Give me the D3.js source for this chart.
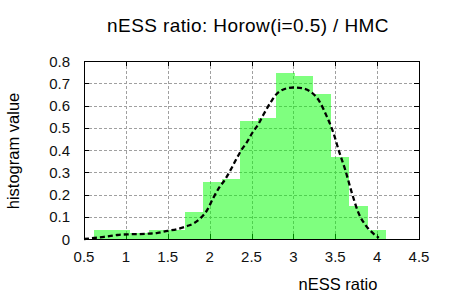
<!DOCTYPE html>
<html>
<head>
<meta charset="utf-8">
<script src="https://cdn.jsdelivr.net/npm/d3@7.9.0/dist/d3.min.js"></script>
<style>
  body { margin: 0; background: #fff; }
  svg { display: block; font-family: "Liberation Sans", Arial, sans-serif; }
</style>
</head>
<body>
<svg id="chart" width="450" height="300"></svg>
<script>
// histogram bins (left edge) and their values
const binLeft = [0.619, 0.837, 1.055, 1.272, 1.490, 1.708, 1.926, 2.144,
                 2.361, 2.579, 2.797, 3.015, 3.233, 3.450, 3.668, 3.886];
const binWidth = 0.2178;
const histValues = [0.040, 0.040, 0.026, 0.040, 0.040, 0.121, 0.258, 0.270,
                    0.530, 0.544, 0.746, 0.733, 0.652, 0.369, 0.148, 0.040];

// smoothed density curve (dashed line)
const curveX = [0.50, 0.56, 0.66, 0.78, 0.90, 1.02, 1.14, 1.26, 1.38, 1.50,
                1.61, 1.73, 1.81, 1.89, 1.97, 2.04, 2.12, 2.18, 2.26, 2.32,
                2.38, 2.44, 2.52, 2.58, 2.64, 2.73, 2.80, 2.88, 3.00, 3.10,
                3.20, 3.30, 3.40, 3.48, 3.54, 3.62, 3.70, 3.78, 3.86, 3.95, 4.02];
const curveY = [0.000, 0.002, 0.006, 0.012, 0.018, 0.021, 0.022, 0.024, 0.028, 0.037,
                0.044, 0.058, 0.070, 0.093, 0.130, 0.182, 0.234, 0.265, 0.317, 0.360,
                0.400, 0.432, 0.483, 0.515, 0.557, 0.615, 0.652, 0.672, 0.681, 0.678,
                0.663, 0.625, 0.550, 0.475, 0.400, 0.310, 0.205, 0.115, 0.063, 0.026, 0.005];

const xTicks = [0.5, 1, 1.5, 2, 2.5, 3, 3.5, 4, 4.5];
const yTicks = [0, 0.1, 0.2, 0.3, 0.4, 0.5, 0.6, 0.7, 0.8];

const title = 'nESS ratio: Horow(i=0.5) / HMC';
const xLabel = 'nESS ratio';
const yLabel = 'histogram value';

const svg = d3.select('#chart');

// plot box
const pLeft = 84, pRight = 419, pTop = 61, pBottom = 239;

const x = d3.scaleLinear().domain([0.5, 4.5]).range([pLeft, pRight]);
const y = d3.scaleLinear().domain([0, 0.8]).range([pBottom, pTop]);

// grid lines
const grid = svg.append('g')
  .attr('stroke', '#a0a0a0')
  .attr('stroke-width', 1)
  .attr('stroke-dasharray', '3,2')
  .attr('shape-rendering', 'crispEdges');

grid.selectAll('.vg')
  .data(xTicks.slice(1, -1))
  .join('line')
  .attr('x1', d => Math.round(x(d)) + 0.5)
  .attr('x2', d => Math.round(x(d)) + 0.5)
  .attr('y1', pTop)
  .attr('y2', pBottom);

grid.selectAll('.hg')
  .data(yTicks.slice(1, -1))
  .join('line')
  .attr('x1', pLeft)
  .attr('x2', pRight)
  .attr('y1', d => Math.round(y(d)) + 0.5)
  .attr('y2', d => Math.round(y(d)) + 0.5);

// tick marks (inward, mirrored)
const ticks = svg.append('g')
  .attr('stroke', '#000')
  .attr('stroke-width', 1)
  .attr('shape-rendering', 'crispEdges');

xTicks.forEach(t => {
  const px = Math.round(x(t)) + 0.5;
  ticks.append('line').attr('x1', px).attr('x2', px).attr('y1', pBottom).attr('y2', pBottom - 5);
  ticks.append('line').attr('x1', px).attr('x2', px).attr('y1', pTop).attr('y2', pTop + 5);
});
yTicks.forEach(t => {
  const py = Math.round(y(t)) + 0.5;
  ticks.append('line').attr('x1', pLeft).attr('x2', pLeft + 5).attr('y1', py).attr('y2', py);
  ticks.append('line').attr('x1', pRight).attr('x2', pRight - 5).attr('y1', py).attr('y2', py);
});

// histogram bars (half-transparent green)
svg.append('g')
  .selectAll('rect')
  .data(histValues)
  .join('rect')
  .attr('x', (d, i) => x(binLeft[i]))
  .attr('width', (d, i) => x(binLeft[i] + binWidth) - x(binLeft[i]))
  .attr('y', d => y(d))
  .attr('height', d => y(0) - y(d))
  .attr('fill', '#00ff00')
  .attr('fill-opacity', 0.5)
  .attr('shape-rendering', 'crispEdges');

// border
svg.append('rect')
  .attr('x', pLeft + 0.5)
  .attr('y', pTop + 0.5)
  .attr('width', pRight - pLeft)
  .attr('height', pBottom - pTop)
  .attr('fill', 'none')
  .attr('stroke', '#000')
  .attr('stroke-width', 1.2)
  .attr('shape-rendering', 'crispEdges');

// density curve
const line = d3.line()
  .x((d, i) => x(curveX[i]))
  .y(d => y(d))
  .curve(d3.curveMonotoneX);

svg.append('path')
  .datum(curveY)
  .attr('d', line)
  .attr('fill', 'none')
  .attr('stroke', '#000')
  .attr('stroke-width', 2.3)
  .attr('stroke-dasharray', '5,3');

// tick labels
svg.append('g')
  .selectAll('text')
  .data(xTicks)
  .join('text')
  .attr('x', d => x(d))
  .attr('y', 261.5)
  .attr('text-anchor', 'middle')
  .attr('font-size', 15)
  .attr('fill', '#111')
  .text(d => d);

svg.append('g')
  .selectAll('text')
  .data(yTicks)
  .join('text')
  .attr('x', 70)
  .attr('y', d => y(d) + 5.5)
  .attr('text-anchor', 'end')
  .attr('font-size', 15)
  .attr('fill', '#111')
  .text(d => d);

// title and axis labels
svg.append('text')
  .attr('x', 248)
  .attr('y', 32)
  .attr('text-anchor', 'middle')
  .attr('font-size', 19)
  .attr('letter-spacing', 0.4)
  .text(title);

svg.append('text')
  .attr('x', 338)
  .attr('y', 290)
  .attr('text-anchor', 'middle')
  .attr('font-size', 16.5)
  .text(xLabel);

svg.append('text')
  .attr('transform', 'translate(19,151) rotate(-90)')
  .attr('text-anchor', 'middle')
  .attr('font-size', 16.5)
  .text(yLabel);
</script>
</body>
</html>
